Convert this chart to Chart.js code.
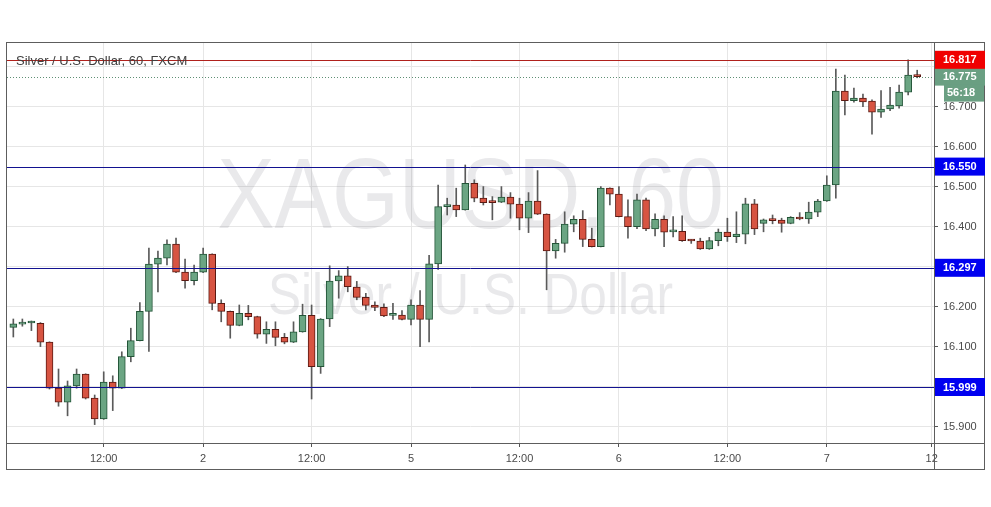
<!DOCTYPE html>
<html>
<head>
<meta charset="utf-8">
<script src="https://cdn.jsdelivr.net/npm/chart.js@4.4.0/dist/chart.umd.min.js"></script>
<style>
  html, body { margin: 0; padding: 0; background: #fff; }
  #wrap { width: 991px; height: 507px; }
</style>
</head>
<body>
<div id="wrap"><canvas id="grafico" width="991" height="507"></canvas></div>
<script>
// XAGUSD 1h candles
const open = [16.148,16.156,16.159,16.158,16.111,15.996,15.961,16.002,16.031,15.971,
  15.919,16.011,15.996,16.075,16.115,16.188,16.306,16.321,16.356,16.286,
  16.265,16.286,16.331,16.208,16.188,16.153,16.183,16.175,16.131,16.143,
  16.123,16.111,16.137,16.178,16.050,16.169,16.264,16.277,16.249,16.223,
  16.204,16.198,16.178,16.179,16.168,16.204,16.168,16.307,16.450,16.454,
  16.442,16.508,16.471,16.461,16.461,16.474,16.456,16.421,16.464,16.431,
  16.339,16.358,16.406,16.418,16.368,16.350,16.496,16.481,16.425,16.400,
  16.467,16.394,16.418,16.387,16.388,16.366,16.364,16.344,16.365,16.386,
  16.375,16.381,16.457,16.408,16.416,16.416,16.408,16.423,16.419,16.436,
  16.464,16.504,16.739,16.715,16.721,16.714,16.686,16.694,16.702,16.736,16.779];
const high = [16.169,16.169,16.164,16.160,16.112,16.044,16.014,16.044,16.032,15.979,
  16.037,16.027,16.087,16.146,16.210,16.346,16.339,16.367,16.371,16.319,
  16.304,16.346,16.332,16.217,16.189,16.204,16.203,16.176,16.162,16.162,
  16.133,16.162,16.206,16.204,16.170,16.302,16.290,16.300,16.263,16.233,
  16.212,16.207,16.208,16.190,16.217,16.240,16.328,16.504,16.471,16.496,
  16.554,16.517,16.500,16.475,16.500,16.485,16.471,16.485,16.540,16.432,
  16.368,16.437,16.427,16.440,16.396,16.500,16.497,16.500,16.467,16.481,
  16.471,16.432,16.427,16.425,16.427,16.368,16.371,16.373,16.394,16.421,
  16.437,16.471,16.468,16.419,16.429,16.421,16.425,16.435,16.461,16.468,
  16.527,16.794,16.779,16.746,16.731,16.717,16.740,16.748,16.754,16.817,16.791];
const low = [16.124,16.151,16.140,16.100,15.994,15.951,15.927,15.996,15.969,15.905,
  15.918,15.940,15.995,16.062,16.114,16.088,16.237,16.304,16.285,16.246,
  16.254,16.285,16.192,16.162,16.121,16.152,16.167,16.121,16.108,16.102,
  16.107,16.110,16.136,15.969,16.033,16.150,16.221,16.237,16.217,16.192,
  16.190,16.175,16.168,16.167,16.154,16.100,16.112,16.293,16.429,16.425,
  16.441,16.462,16.454,16.417,16.460,16.421,16.392,16.385,16.430,16.242,
  16.321,16.336,16.387,16.350,16.349,16.349,16.454,16.424,16.371,16.395,
  16.390,16.377,16.350,16.374,16.363,16.358,16.343,16.343,16.352,16.363,
  16.360,16.357,16.380,16.387,16.407,16.386,16.407,16.417,16.408,16.425,
  16.463,16.471,16.679,16.711,16.700,16.631,16.673,16.690,16.696,16.729,16.772];
const close = [16.157,16.158,16.160,16.111,15.996,15.961,16.002,16.031,15.971,15.919,
  16.011,15.996,16.075,16.115,16.188,16.306,16.321,16.356,16.286,16.265,
  16.286,16.331,16.208,16.188,16.153,16.183,16.175,16.131,16.143,16.123,
  16.111,16.137,16.178,16.050,16.169,16.264,16.277,16.250,16.223,16.203,
  16.198,16.177,16.179,16.168,16.204,16.168,16.307,16.450,16.454,16.442,
  16.508,16.471,16.460,16.460,16.474,16.456,16.421,16.464,16.431,16.339,
  16.358,16.406,16.418,16.368,16.350,16.496,16.481,16.425,16.400,16.467,
  16.394,16.418,16.386,16.388,16.365,16.364,16.344,16.365,16.386,16.375,
  16.381,16.457,16.394,16.417,16.415,16.408,16.423,16.419,16.436,16.464,
  16.504,16.739,16.715,16.721,16.712,16.686,16.694,16.704,16.736,16.779,16.775];

// time axis labels (position = candle number)
const xTickPos = [10, 21, 33, 44, 56, 67, 79, 90, 101.6];
const xTickLabels = ["12:00", "2", "12:00", "5", "12:00", "6", "12:00", "7", "12"];

// price axis
const yTickValues = [15.9, 16.0, 16.1, 16.2, 16.3, 16.4, 16.5, 16.6, 16.7, 16.8];
const hiddenTicks = ["16.800", "16.300", "16.000"];

// price levels drawn on the chart
const levelValues = [16.817, 16.550, 16.297, 15.999];
const levelColors = ["#b0211c", "#121290", "#121290", "#121290"];
const levelBoxColors = ["#f00000", "#0000f0", "#0000f0", "#0000f0"];
const lastPrice = 16.775;
const countdown = "56:18";

const upColor = "#6ba583", downColor = "#d75442";
const upBorder = "#225437", downBorder = "#5b1a13";
const fontFam = "'Liberation Sans', Arial, sans-serif";

const idx = open.map((v, i) => i);
const isUp = i => close[i] >= open[i];

const overlay = {
  id: "overlay",
  beforeDatasetsDraw(chart) {
    const {ctx, chartArea: a} = chart;
    const cx = (a.left + a.right) / 2, cy = (a.top + a.bottom) / 2;
    ctx.save();
    ctx.fillStyle = "rgba(120,120,130,0.16)";
    ctx.textAlign = "center";
    ctx.textBaseline = "middle";
    ctx.translate(cx, cy - 43);
    ctx.scale(0.86, 1);
    ctx.font = "100px " + fontFam;
    ctx.fillText("XAGUSD, 60", 0, 0);
    ctx.restore();
    ctx.save();
    ctx.fillStyle = "rgba(120,120,130,0.16)";
    ctx.textAlign = "center";
    ctx.textBaseline = "middle";
    ctx.translate(cx, cy + 55);
    ctx.scale(0.87, 1);
    ctx.font = "57px " + fontFam;
    ctx.fillText("Silver / U.S. Dollar", 0, 0);
    ctx.restore();
  },
  afterDatasetsDraw(chart) {
    const {ctx, chartArea: a, scales: {y}} = chart;
    ctx.save();
    // last price dotted line
    const py = Math.round(y.getPixelForValue(lastPrice)) + 0.5;
    ctx.strokeStyle = "#5f8f74";
    ctx.setLineDash([1, 2]);
    ctx.lineWidth = 1;
    ctx.beginPath(); ctx.moveTo(a.left, py); ctx.lineTo(a.right, py); ctx.stroke();
    ctx.setLineDash([]);
    levelValues.forEach((v, i) => {
      const ly = Math.round(y.getPixelForValue(v)) + 0.5;
      ctx.strokeStyle = levelColors[i];
      ctx.beginPath(); ctx.moveTo(a.left, ly); ctx.lineTo(a.right, ly); ctx.stroke();
    });
    // title
    ctx.fillStyle = "#404040";
    ctx.font = "13px " + fontFam;
    ctx.textBaseline = "middle";
    ctx.textAlign = "left";
    ctx.fillText("Silver / U.S. Dollar, 60, FXCM", a.left + 9, 61);
    ctx.restore();
  },
  afterDraw(chart) {
    const {ctx, chartArea: a, scales: {y}} = chart;
    ctx.save();
    ctx.strokeStyle = "#5d5d5d";
    ctx.lineWidth = 1;
    // frame, price axis line, time axis line
    ctx.strokeRect(a.left - 0.5, a.top - 0.5, 985 - a.left, 470 - a.top);
    ctx.beginPath();
    ctx.moveTo(a.right + 0.5, a.top); ctx.lineTo(a.right + 0.5, 470);
    ctx.moveTo(a.left, a.bottom + 0.5); ctx.lineTo(985, a.bottom + 0.5);
    ctx.stroke();
    ctx.font = "bold 11px " + fontFam;
    ctx.textBaseline = "middle";
    ctx.textAlign = "left";
    // last price box + countdown
    const py = y.getPixelForValue(lastPrice);
    ctx.fillStyle = "#6a9f82";
    ctx.fillRect(a.right + 1, py - 9, 50, 18);
    ctx.fillStyle = "#fff";
    ctx.fillText(lastPrice.toFixed(3), a.right + 9, py + 0.5);
    ctx.fillStyle = "#6a9f82";
    ctx.fillRect(a.right + 10, py + 8, 40, 17);
    ctx.fillStyle = "#fff";
    ctx.fillText(countdown, a.right + 13, py + 16.5);
    levelValues.forEach((v, i) => {
      const ly = y.getPixelForValue(v);
      ctx.fillStyle = levelBoxColors[i];
      ctx.fillRect(a.right + 1, ly - 9, 50, 18);
      ctx.fillStyle = "#fff";
      ctx.fillText(v.toFixed(3), a.right + 9, ly + 0.5);
    });
    ctx.restore();
  }
};

new Chart(document.getElementById("grafico"), {
  type: "bar",
  data: {
    datasets: [{
      label: "body",
      data: idx.map(i => ({x: i, y: [open[i], close[i]]})),
      backgroundColor: c => isUp(c.dataIndex) ? upColor : downColor,
      borderColor: c => isUp(c.dataIndex) ? upBorder : downBorder,
      borderWidth: 1,
      borderSkipped: false,
      barThickness: 7,
      minBarLength: 2,
      grouped: false,
      order: 1
    }, {
      label: "wick",
      data: idx.map(i => ({x: i, y: [low[i], high[i]]})),
      backgroundColor: "#5a5a5a",
      borderWidth: 0,
      barThickness: 1,
      grouped: false,
      order: 2
    }]
  },
  options: {
    responsive: false,
    animation: false,
    devicePixelRatio: 1,
    layout: { padding: { left: 7, top: 43, right: 6, bottom: 37 } },
    plugins: { legend: { display: false }, tooltip: { enabled: false } },
    scales: {
      x: {
        type: "linear",
        min: -0.7,
        max: 101.86,
        offset: false,
        afterBuildTicks: s => { s.ticks = xTickPos.map(v => ({value: v})); },
        afterFit: s => { s.height = 27; },
        grid: { color: "#e6e6e6", offset: false, tickLength: 4, tickColor: "#555" },
        border: { display: false },
        ticks: {
          autoSkip: false, maxRotation: 0, padding: 5, color: "#4a4a4a",
          font: { family: fontFam, size: 11 },
          callback: v => { const k = xTickPos.indexOf(v); return k < 0 ? "" : xTickLabels[k]; }
        }
      },
      y: {
        position: "right",
        min: 15.859,
        max: 16.859,
        beginAtZero: false,
        afterBuildTicks: s => { s.ticks = yTickValues.map(v => ({value: v})); },
        afterFit: s => { s.width = 51; },
        grid: { color: "#e6e6e6", tickLength: 4, tickColor: "#555" },
        border: { display: false },
        ticks: {
          autoSkip: false, padding: 5, color: "#4a4a4a",
          font: { family: fontFam, size: 11 },
          callback: v => { const t = Number(v).toFixed(3); return hiddenTicks.includes(t) ? "" : t; }
        }
      }
    }
  },
  plugins: [overlay]
});
</script>
</body>
</html>
